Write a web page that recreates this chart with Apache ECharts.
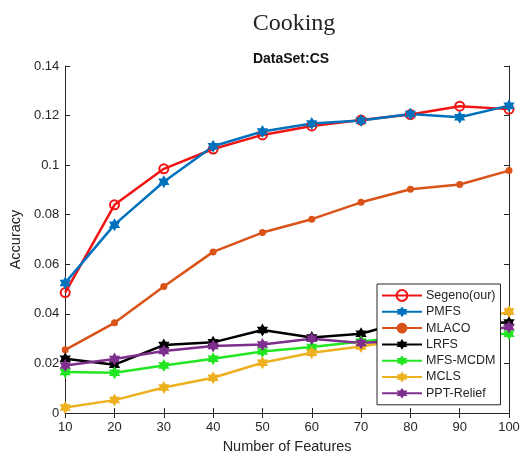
<!DOCTYPE html>
<html><head><meta charset="utf-8">
<script src="https://cdn.jsdelivr.net/npm/echarts@6/dist/echarts.min.js"></script>
<style>html,body{margin:0;padding:0;background:#fff}#c{width:523px;height:459px}</style>
</head><body><div id="c"></div>
<script>
const features = [10, 20, 30, 40, 50, 60, 70, 80, 90, 100];
const segeno   = [0.0486, 0.0840, 0.0985, 0.1065, 0.1122, 0.1158, 0.1182, 0.1204, 0.1238, 0.1226];
const pmfs     = [0.0525, 0.0760, 0.0933, 0.1076, 0.1136, 0.1168, 0.1180, 0.1206, 0.1193, 0.1240];
const mlaco    = [0.0255, 0.0364, 0.0510, 0.0650, 0.0728, 0.0782, 0.0850, 0.0903, 0.0922, 0.0978];
const lrfs     = [0.0219, 0.0195, 0.0274, 0.0285, 0.0335, 0.0305, 0.0320, 0.0375, 0.0362, 0.0365];
const mfsmcdm  = [0.0165, 0.0162, 0.0192, 0.0219, 0.0248, 0.0266, 0.0288, 0.0312, 0.0315, 0.0320];
const mcls     = [0.0022, 0.0052, 0.0103, 0.0142, 0.0203, 0.0243, 0.0268, 0.0300, 0.0350, 0.0410];
const pptrelief= [0.0192, 0.0218, 0.0250, 0.0270, 0.0276, 0.0300, 0.0282, 0.0295, 0.0320, 0.0347];
const seriesNames = ['Segeno(our)', 'PMFS', 'MLACO', 'LRFS', 'MFS-MCDM', 'MCLS', 'PPT-Relief'];

// hexagram symbol shape
function hexagramPath() {
  const R = 10, r = R / Math.sqrt(3);
  let d = '';
  for (let i = 0; i < 12; i++) {
    const ang = (-90 + i * 30) * Math.PI / 180;
    const rad = i % 2 === 0 ? R : r;
    const x = (rad * Math.cos(ang)).toFixed(3), y = (rad * Math.sin(ang)).toFixed(3);
    d += (i === 0 ? 'M' : 'L') + x + ' ' + y + ' ';
  }
  return 'path://' + d + 'Z';
}
const HEX = hexagramPath();

const pairs = arr => features.map((f, i) => [f, arr[i]]);
const textColor = '#262626';
const FONT = 'Liberation Sans, Arial, sans-serif';

function mk(name, data, color, symbol, size, hollow) {
  return {
    name, type: 'line', data: pairs(data),
    symbol, symbolSize: size, symbolKeepAspect: true,
    lineStyle: { color, width: 2.5 },
    itemStyle: hollow ? { color: 'rgba(255,255,255,0)', borderColor: color, borderWidth: 2 } : { color },
    emphasis: { disabled: true },
    animation: false
  };
}

const chart = echarts.init(document.getElementById('c'), null, { renderer: 'canvas' });
chart.setOption({
  backgroundColor: '#fff',
  animation: false,
  title: [
    { text: 'Cooking', left: 289, top: 7, textAlign: 'center',
      textStyle: { fontFamily: 'Liberation Serif, Times New Roman, serif', fontWeight: 'normal', fontSize: 24, color: '#222' } },
    { text: 'DataSet:CS', left: 286, top: 47, textAlign: 'center',
      textStyle: { fontFamily: FONT, fontWeight: 'bold', fontSize: 14, color: '#111' } }
  ],
  grid: { left: 63, right: 14, top: 66, bottom: 41, containLabel: false },
  legend: {
    orient: 'vertical', left: 377, top: 284,
    data: seriesNames,
    itemWidth: 40, itemHeight: 13.5, itemGap: 3.3,
    padding: [5, 5, 5, 4],
    backgroundColor: '#fff', borderColor: '#262626', borderWidth: 1,
    textStyle: { fontFamily: FONT, fontSize: 12.5, color: textColor, padding: [0, 0, 0, -1] },
    selectedMode: false
  },
  xAxis: [
    { type: 'value', min: 10, max: 100, interval: 10, position: 'bottom',
      name: 'Number of Features', nameLocation: 'middle', nameGap: 26,
      nameTextStyle: { fontFamily: FONT, fontSize: 14.5, color: textColor },
      axisLine: { show: true, lineStyle: { color: '#262626', width: 1 } },
      axisTick: { show: true, inside: true, length: 5, lineStyle: { color: '#262626' } },
      axisLabel: { fontFamily: FONT, fontSize: 13, color: textColor, margin: 8 },
      splitLine: { show: false } },
    { type: 'value', min: 10, max: 100, interval: 10, position: 'top',
      axisLine: { show: true, lineStyle: { color: '#262626', width: 1 } },
      axisTick: { show: true, inside: true, length: 5, lineStyle: { color: '#262626' } },
      axisLabel: { show: false }, splitLine: { show: false } }
  ],
  yAxis: [
    { type: 'value', min: 0, max: 0.14, interval: 0.02, position: 'left',
      name: 'Accuracy', nameLocation: 'middle', nameGap: 41,
      nameTextStyle: { fontFamily: FONT, fontSize: 14.5, color: textColor },
      axisLine: { show: true, lineStyle: { color: '#262626', width: 1 } },
      axisTick: { show: true, inside: true, length: 5, lineStyle: { color: '#262626' } },
      axisLabel: { fontFamily: FONT, fontSize: 13, color: textColor, margin: 6,
        formatter: v => String(parseFloat(v.toFixed(2))) },
      splitLine: { show: false } },
    { type: 'value', min: 0, max: 0.14, interval: 0.02, position: 'right',
      axisLine: { show: true, lineStyle: { color: '#262626', width: 1 } },
      axisTick: { show: true, inside: true, length: 5, lineStyle: { color: '#262626' } },
      axisLabel: { show: false }, splitLine: { show: false } }
  ],
  series: [
    mk(seriesNames[0], segeno, '#f01414', 'circle', 9, true),
    mk(seriesNames[1], pmfs, '#0072bd', HEX, 13, false),
    mk(seriesNames[2], mlaco, '#d95319', 'circle', 7, false),
    mk(seriesNames[3], lrfs, '#000000', HEX, 13, false),
    mk(seriesNames[4], mfsmcdm, '#22e622', HEX, 13, false),
    mk(seriesNames[5], mcls, '#edb120', HEX, 13, false),
    mk(seriesNames[6], pptrelief, '#7e2f8e', HEX, 13, false)
  ]
});
</script>
</body></html>
